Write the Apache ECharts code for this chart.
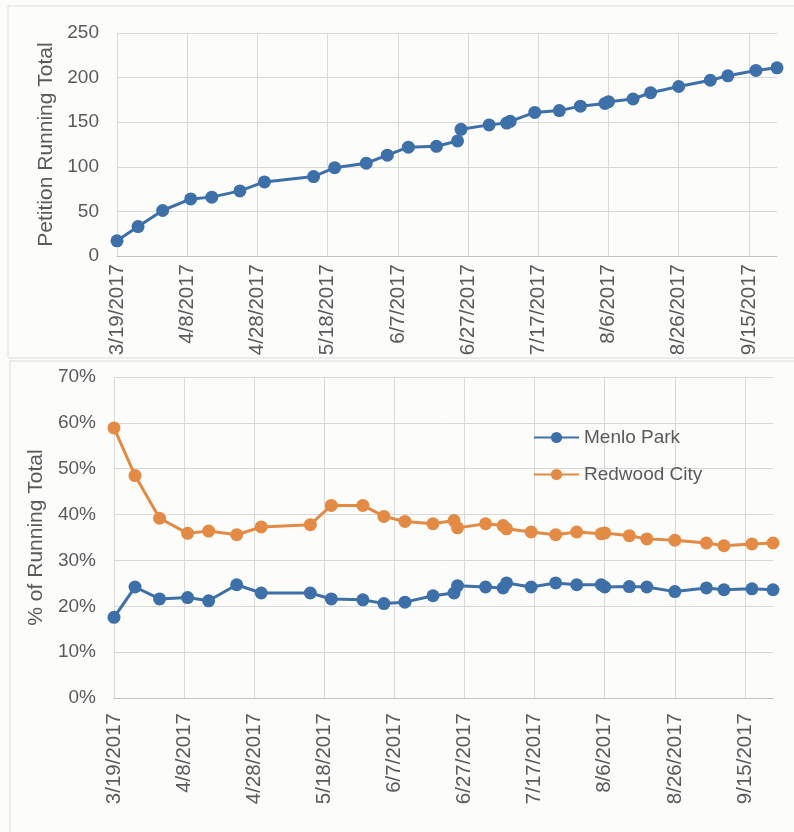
<!DOCTYPE html>
<html>
<head>
<meta charset="utf-8">
<script src="https://cdn.jsdelivr.net/npm/echarts@6/dist/echarts.min.js"></script>
<style>
  html, body { margin: 0; padding: 0; background: #fcfcfb; }
  #chart { width: 794px; height: 832px; }
</style>
</head>
<body>
<div id="chart"></div>
<script>
// dates of each petition count
const dates = ['2017-03-19','2017-03-25','2017-04-01','2017-04-09','2017-04-15','2017-04-23','2017-04-30',
  '2017-05-14','2017-05-20','2017-05-29','2017-06-04','2017-06-10','2017-06-18','2017-06-24','2017-06-25',
  '2017-07-03','2017-07-08','2017-07-09','2017-07-16','2017-07-23','2017-07-29','2017-08-05','2017-08-06',
  '2017-08-13','2017-08-18','2017-08-26','2017-09-04','2017-09-09','2017-09-17','2017-09-23'];
const totals = [17,33,51,64,66,73,83,89,99,104,113,122,123,129,142,147,149,151,161,163,168,171,173,176,183,190,197,202,208,211];
const menloPct = [17.6,24.2,21.6,21.9,21.2,24.7,22.9,22.9,21.6,21.4,20.6,20.9,22.3,22.9,24.5,24.2,24.0,25.1,24.2,25.1,24.7,24.7,24.2,24.3,24.2,23.2,24.0,23.6,23.8,23.6];
const redwoodPct = [58.9,48.5,39.2,35.9,36.4,35.6,37.3,37.8,42.0,42.0,39.6,38.5,38.0,38.7,37.1,38.0,37.6,36.9,36.2,35.6,36.2,35.8,36.0,35.4,34.7,34.4,33.8,33.2,33.6,33.8];
const seriesNames = ['Menlo Park', 'Redwood City'];

const DAY = 86400000;
const start = Date.UTC(2017, 2, 19);
const dayOf = s => Math.round((Date.parse(s + 'T00:00:00Z') - start) / DAY);
const fmtDay = d => {
  const t = new Date(start + d * DAY);
  return (t.getUTCMonth() + 1) + '/' + t.getUTCDate() + '/' + t.getUTCFullYear();
};
const days = dates.map(dayOf);
const lastDay = days[days.length - 1];

const FONT = 'Liberation Sans';
const TXT = '#5a5a5a';
const GRIDC = '#d9d9d9';
const BLUE = '#3d6fa9';
const ORANGE = '#e38a45';

function xAxis(gridIndex, margin){
  return {
    type: 'value', gridIndex, min: 0, max: lastDay, interval: 20,
    axisLine: { lineStyle: { color: '#bfbfbf', width: 1 } },
    axisTick: { show: false },
    splitLine: { show: true, showMaxLine: false, lineStyle: { color: GRIDC } },
    axisLabel: { rotate: 90, margin, fontFamily: FONT, fontSize: 20.5, color: TXT,
      showMaxLabel: false, formatter: v => fmtDay(v) }
  };
}
function yAxis(gridIndex, max, interval, name, nameGap, pct){
  return {
    type: 'value', gridIndex, min: 0, max, interval,
    name, nameLocation: 'middle', nameGap, nameRotate: 90,
    nameTextStyle: { fontFamily: FONT, fontSize: 21, color: TXT },
    axisLine: { show: false },
    axisTick: { show: false },
    splitLine: { lineStyle: { color: GRIDC } },
    axisLabel: { margin: 18, fontFamily: FONT, fontSize: 19, color: TXT,
      formatter: pct ? (v => v + '%') : (v => v) }
  };
}
function lineSeries(name, vals, color, xi, yi){
  return {
    name, type: 'line', xAxisIndex: xi, yAxisIndex: yi,
    data: vals.map((v, i) => [days[i], v]),
    symbol: 'circle', symbolSize: 13, showSymbol: true,
    lineStyle: { width: 3, color }, itemStyle: { color },
    animation: false
  };
}

const chart = echarts.init(document.getElementById('chart'), null, { renderer: 'canvas' });
chart.setOption({
  backgroundColor: '#fcfcfb',
  animation: false,
  graphic: [
    { type: 'rect', shape: { x: 8, y: 6, width: 790, height: 352 }, style: { fill: 'none', stroke: '#dcdcdc', lineWidth: 1 } },
    { type: 'rect', shape: { x: 10, y: 361, width: 790, height: 480 }, style: { fill: 'none', stroke: '#dcdcdc', lineWidth: 1 } }
  ],
  grid: [
    { left: 117, top: 33, width: 660, height: 223 },
    { left: 114, top: 377, width: 659, height: 321 }
  ],
  xAxis: [ xAxis(0, 8), xAxis(1, 15) ],
  yAxis: [
    yAxis(0, 250, 50, 'Petition Running Total', 58, false),
    yAxis(1, 70, 10, '% of Running Total', 62, true)
  ],
  legend: {
    data: seriesNames, orient: 'vertical', left: 533, top: 428, padding: 0,
    itemWidth: 45, itemHeight: 14, itemGap: 18,
    textStyle: { fontFamily: FONT, fontSize: 19, color: TXT }
  },
  series: [
    lineSeries('Petition Running Total', totals, BLUE, 0, 0),
    lineSeries(seriesNames[0], menloPct, BLUE, 1, 1),
    lineSeries(seriesNames[1], redwoodPct, ORANGE, 1, 1)
  ]
});
</script>
</body>
</html>
